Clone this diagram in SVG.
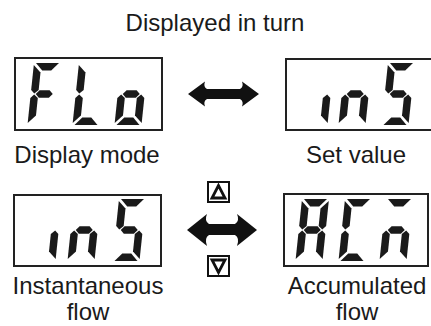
<svg xmlns="http://www.w3.org/2000/svg" xmlns:xlink="http://www.w3.org/1999/xlink" width="431" height="326" viewBox="0 0 431 326">
<style>
.box{fill:#fff;stroke:#222;stroke-width:2}
.seg{fill:#1a1a1a}
.lbl{font-family:"Liberation Sans",Arial,sans-serif;font-size:24px;fill:#1a1a1a;text-anchor:middle}
.arr{fill:#111}
.btn{fill:#fff;stroke:#111;stroke-width:2}
.tri{fill:none;stroke:#111;stroke-width:2.8;stroke-linejoin:miter}
</style>
<defs>
<path id="sa" class="seg" d="M2,0 L25,0 L18,7.5 L9,7.5 Z"/>
<path id="sb" class="seg" d="M27,2 L27,27 L23.5,30.5 L19.5,27 L19.5,9.5 Z"/>
<path id="sc" class="seg" d="M27,35 L27,60 L19.5,52.5 L19.5,35 L23.5,31.5 Z"/>
<path id="sd" class="seg" d="M2,62 L25,62 L18,54.5 L9,54.5 Z"/>
<path id="se" class="seg" d="M0,35 L3.5,31.5 L7.5,35 L7.5,52.5 L0,60 Z"/>
<path id="sf" class="seg" d="M0,2 L7.5,9.5 L7.5,27 L3.5,30.5 L0,27 Z"/>
<path id="sg" class="seg" d="M5,31 L8.5,27.2 L18.5,27.2 L22,31 L18.5,34.8 L8.5,34.8 Z"/>
</defs>
<text class="lbl" x="215" y="31">Displayed in turn</text>

<g id="display-mode">
<rect class="box" x="15" y="58" width="147" height="72"/>
<g transform="translate(34,63) skewX(-6)"><use xlink:href="#sa"/><use xlink:href="#sf"/><use xlink:href="#sg"/><use xlink:href="#se"/></g>
<g transform="translate(79,63) skewX(-6)"><use xlink:href="#sf"/><use xlink:href="#se"/><use xlink:href="#sd"/></g>
<g transform="translate(121,63) skewX(-6)"><use xlink:href="#sg"/><use xlink:href="#se"/><use xlink:href="#sc"/><use xlink:href="#sd"/></g>
<text class="lbl" x="87" y="163">Display mode</text>
</g>

<g id="set-value">
<rect class="box" x="286" y="59" width="147" height="71"/>
<g transform="translate(307,63) skewX(-6)"><use xlink:href="#sc"/></g>
<g transform="translate(345,63) skewX(-6)"><use xlink:href="#sg"/><use xlink:href="#se"/><use xlink:href="#sc"/></g>
<g transform="translate(388,63) skewX(-6)"><use xlink:href="#sa"/><use xlink:href="#sf"/><use xlink:href="#sg"/><use xlink:href="#sc"/><use xlink:href="#sd"/></g>
<text class="lbl" x="356" y="163">Set value</text>
</g>

<g id="instantaneous-flow">
<rect class="box" x="14" y="195" width="147" height="71"/>
<g transform="translate(35,199) skewX(-6)"><use xlink:href="#sc"/></g>
<g transform="translate(74,199) skewX(-6)"><use xlink:href="#sg"/><use xlink:href="#se"/><use xlink:href="#sc"/></g>
<g transform="translate(119,199) skewX(-6)"><use xlink:href="#sa"/><use xlink:href="#sf"/><use xlink:href="#sg"/><use xlink:href="#sc"/><use xlink:href="#sd"/></g>
<text class="lbl" x="88" y="294">Instantaneous</text>
<text class="lbl" x="88" y="320">flow</text>
</g>

<g id="accumulated-flow">
<rect class="box" x="284" y="194" width="144" height="72"/>
<g transform="translate(302,199) skewX(-6)"><use xlink:href="#sa"/><use xlink:href="#sb"/><use xlink:href="#sc"/><use xlink:href="#se"/><use xlink:href="#sf"/><use xlink:href="#sg"/></g>
<g transform="translate(345,199) skewX(-6)"><use xlink:href="#sa"/><use xlink:href="#sf"/><use xlink:href="#se"/><use xlink:href="#sd"/></g>
<g transform="translate(386,199) skewX(-6)"><use xlink:href="#sa"/><use xlink:href="#sg"/><use xlink:href="#se"/><use xlink:href="#sc"/></g>
<text class="lbl" x="357" y="294">Accumulated</text>
<text class="lbl" x="357" y="320">flow</text>
</g>

<g id="connectors">
<path class="arr" d="M188,94 L205,81.5 Q203,87 207,89 L240,89 Q244,87 242,81.5 L259,94 L242,106.5 Q244,101 240,99 L207,99 Q203,101 205,106.5 Z"/>
<path class="arr" d="M187,230 L207,214 Q204,221 209,224 L235,224 Q240,221 237,214 L257,230 L237,246 Q240,238 235,235 L209,235 Q204,238 207,246 Z"/>
</g>

<g id="up-button">
<rect class="btn" x="208" y="182" width="21" height="20"/>
<path class="tri" d="M218.5,185.5 L212,198 L225,198 Z"/>
</g>
<g id="down-button">
<rect class="btn" x="208" y="256" width="21" height="20"/>
<path class="tri" d="M212,260 L225,260 L218.5,272.5 Z"/>
</g>
</svg>
